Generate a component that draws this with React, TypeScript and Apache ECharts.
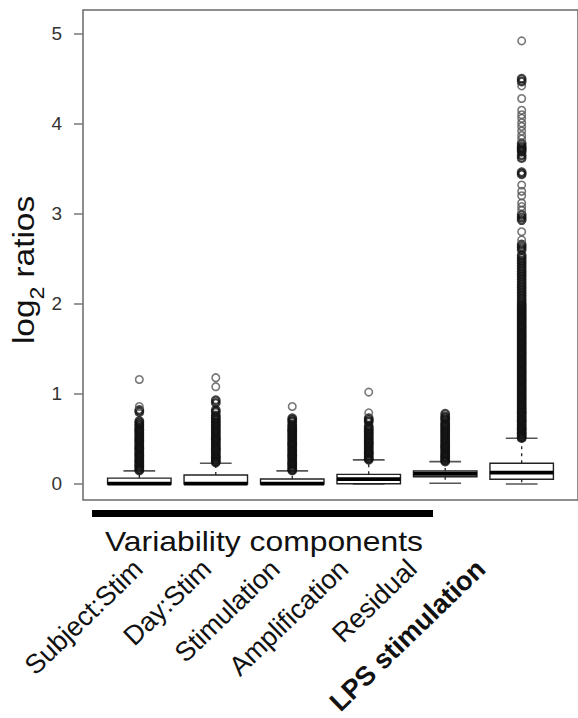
import React, { useEffect, useRef } from "react";
import * as echarts from "echarts";

const categories = ["Subject:Stim", "Day:Stim", "Stimulation", "Amplification", "Residual", "LPS stimulation"];

// [lower whisker, Q1, median, Q3, upper whisker] in log2 ratios
const boxStats = [
  [0, 0, 0.003, 0.065, 0.145],
  [0, 0, 0.003, 0.1, 0.23],
  [0, 0, 0.003, 0.055, 0.145],
  [0, 0.002, 0.053, 0.107, 0.267],
  [0.008, 0.081, 0.111, 0.144, 0.248],
  [0, 0.052, 0.125, 0.23, 0.507],
];

const outSubjectStim = [0.15, 0.16, 0.18, 0.2, 0.21, 0.23, 0.25, 0.26, 0.28, 0.3, 0.32, 0.33, 0.35, 0.37, 0.39, 0.4, 0.42, 0.44, 0.46, 0.48, 0.49, 0.51, 0.53, 0.55, 0.57, 0.59, 0.6, 0.62, 0.64, 0.66, 0.68, 0.7, 0.8, 0.82, 0.86, 1.16];
const outDayStim = [0.24, 0.25, 0.27, 0.29, 0.3, 0.32, 0.34, 0.36, 0.38, 0.39, 0.41, 0.43, 0.45, 0.47, 0.49, 0.5, 0.52, 0.54, 0.56, 0.58, 0.6, 0.62, 0.64, 0.66, 0.68, 0.7, 0.72, 0.74, 0.76, 0.8, 0.82, 0.9, 0.93, 1.08, 1.18];
const outStimulation = [0.15, 0.16, 0.18, 0.2, 0.22, 0.23, 0.25, 0.27, 0.29, 0.31, 0.32, 0.34, 0.36, 0.38, 0.4, 0.42, 0.44, 0.45, 0.47, 0.49, 0.51, 0.53, 0.55, 0.57, 0.59, 0.6, 0.62, 0.64, 0.66, 0.69, 0.71, 0.73, 0.86];
const outAmplification = [0.27, 0.28, 0.3, 0.32, 0.34, 0.35, 0.37, 0.39, 0.41, 0.43, 0.45, 0.46, 0.48, 0.5, 0.52, 0.54, 0.56, 0.58, 0.6, 0.62, 0.64, 0.69, 0.71, 0.73, 0.79, 1.02];
const outResidual = [0.25, 0.26, 0.28, 0.3, 0.31, 0.33, 0.35, 0.37, 0.39, 0.41, 0.42, 0.44, 0.46, 0.48, 0.5, 0.52, 0.54, 0.56, 0.58, 0.6, 0.62, 0.64, 0.66, 0.68, 0.71, 0.73, 0.75, 0.78];
const outLPS = [
  0.51, 0.52, 0.54, 0.56, 0.57, 0.59, 0.61, 0.62, 0.64, 0.66, 0.68, 0.7, 0.71, 0.73, 0.75, 0.77, 0.79, 0.8, 0.82, 0.84,
  0.86, 0.88, 0.9, 0.92, 0.94, 0.96, 0.98, 1.0, 1.02, 1.04, 1.06, 1.08, 1.1, 1.12, 1.14, 1.16, 1.18, 1.2, 1.22, 1.24,
  1.26, 1.28, 1.3, 1.32, 1.34, 1.36, 1.38, 1.4, 1.42, 1.44, 1.46, 1.48, 1.5, 1.52, 1.54, 1.56, 1.58, 1.6, 1.62, 1.64,
  1.66, 1.68, 1.7, 1.72, 1.74, 1.76, 1.78, 1.8, 1.82, 1.84, 1.86, 1.88, 1.9, 1.92, 1.94, 1.96, 1.98, 2.0,
  2.03, 2.06, 2.09, 2.12, 2.15, 2.18, 2.21, 2.24, 2.27, 2.3, 2.33, 2.36, 2.39, 2.42, 2.45, 2.48, 2.51, 2.54, 2.6, 2.63, 2.66, 2.71,
  2.8, 2.93, 2.96, 2.99, 3.04, 3.08, 3.12, 3.2, 3.25, 3.32, 3.44, 3.46, 3.62, 3.65, 3.69, 3.71, 3.73, 3.75, 3.78, 3.83,
  3.87, 3.92, 3.97, 4.01, 4.06, 4.1, 4.15, 4.28, 4.42, 4.47, 4.5, 4.92,
];
const outliers = [outSubjectStim, outDayStim, outStimulation, outAmplification, outResidual, outLPS];

const yTicks = [0, 1, 2, 3, 4, 5];
const groupTitle = "Variability components";

const FONT = "'Liberation Sans', Arial, Helvetica, sans-serif";

export default function App() {
  const ref = useRef<HTMLDivElement>(null);
  useEffect(() => {
    if (!ref.current) return;
    const chart = echarts.init(ref.current, null, { renderer: "svg" });

    const boxData = boxStats.map((s, i) => [i + 1, ...s]);
    const outData: any[] = [];
    outliers.forEach((arr, i) =>
      arr.forEach((v, j) => {
        const dense = arr.some((u, k) => k !== j && Math.abs(u - v) <= 0.031);
        outData.push({
          value: [i + 1, v],
          itemStyle: dense
            ? { color: "rgba(0,0,0,0)", borderColor: "#111", borderWidth: 2.4 }
            : { color: "rgba(0,0,0,0)", borderColor: "#555", borderWidth: 1.6 },
        });
      })
    );

    const option: any = {
      animation: false,
      backgroundColor: "#fff",
      grid: [
        { left: 83, right: -6, top: 10, bottom: 218, show: true, borderColor: "#6a6a6a", borderWidth: 1.5, backgroundColor: "transparent" },
        { left: 104, width: 411, top: 10, bottom: 218, show: false },
      ],
      xAxis: [
        { type: "value", gridIndex: 0, min: 0.2636, max: 6.7365, show: false },
        {
          type: "category",
          gridIndex: 1,
          data: categories,
          boundaryGap: true,
          axisLine: { show: false },
          axisTick: { show: false },
          axisLabel: {
            interval: 0,
            rotate: 44,
            margin: 74,
            fontSize: 27,
            color: "#111",
            fontFamily: FONT,
            formatter: (v: string) => (v === "LPS stimulation" ? "{b|" + v + "}" : v),
            rich: { b: { fontWeight: "bold", fontSize: 27, color: "#111", fontFamily: FONT } },
          },
        },
      ],
      yAxis: [
        {
          type: "value",
          gridIndex: 0,
          min: -0.178,
          max: 5.263,
          axisLine: { show: false },
          splitLine: { show: false },
          axisTick: { show: true, length: 9, customValues: yTicks, lineStyle: { color: "#777", width: 1.5 } },
          axisLabel: { customValues: yTicks, margin: 21, fontSize: 19, color: "#333", fontFamily: FONT },
        },
        { type: "value", gridIndex: 1, show: false, min: 0, max: 1 },
      ],
      series: [
        {
          type: "custom",
          xAxisIndex: 0,
          yAxisIndex: 0,
          data: boxData,
          encode: { x: 0, y: [1, 2, 3, 4, 5] },
          renderItem: (params: any, api: any) => {
            const x = api.value(0);
            const w = api.size([0.83, 0])[0];
            const half = w / 2;
            const cap = w / 4;
            const pLo = api.coord([x, api.value(1)]);
            const pQ1 = api.coord([x, api.value(2)]);
            const pMed = api.coord([x, api.value(3)]);
            const pQ3 = api.coord([x, api.value(4)]);
            const pHi = api.coord([x, api.value(5)]);
            const cx = pMed[0];
            const dash = { stroke: "#222", lineWidth: 1.3, lineDash: [3, 4] };
            const capStyle = { stroke: "#555", lineWidth: 1.6 };
            return {
              type: "group",
              children: [
                { type: "line", shape: { x1: cx, y1: pQ3[1], x2: cx, y2: pHi[1] }, style: dash },
                { type: "line", shape: { x1: cx, y1: pQ1[1], x2: cx, y2: pLo[1] }, style: dash },
                { type: "line", shape: { x1: cx - cap, y1: pHi[1], x2: cx + cap, y2: pHi[1] }, style: capStyle },
                { type: "line", shape: { x1: cx - cap, y1: pLo[1], x2: cx + cap, y2: pLo[1] }, style: capStyle },
                {
                  type: "rect",
                  shape: { x: cx - half, y: pQ3[1], width: w, height: Math.max(pQ1[1] - pQ3[1], 1) },
                  style: { fill: "#fff", stroke: "#222", lineWidth: 1.4 },
                },
                { type: "line", shape: { x1: cx - half, y1: pMed[1], x2: cx + half, y2: pMed[1] }, style: { stroke: "#000", lineWidth: 3.8 } },
              ],
            };
          },
          z: 2,
        },
        {
          type: "scatter",
          xAxisIndex: 0,
          yAxisIndex: 0,
          data: outData,
          symbol: "circle",
          symbolSize: 7.5,
          z: 3,
        },
      ],
      graphic: [
        {
          type: "text",
          x: 24,
          y: 270,
          rotation: Math.PI / 2,
          scaleX: 1.15,
          style: {
            text: "{a|log}{s|2}{a| ratios}",
            align: "center",
            verticalAlign: "middle",
            fill: "#111",
            rich: {
              a: { fontSize: 29, lineHeight: 50, fontFamily: FONT, fill: "#111" },
              s: { fontSize: 20, lineHeight: 24, padding: [26, 0, 0, 0], fontFamily: FONT, fill: "#111" },
            },
          },
        },
        {
          type: "rect",
          shape: { x: 92, y: 510, width: 341, height: 7 },
          style: { fill: "#000" },
        },
        {
          type: "text",
          x: 264,
          y: 541,
          scaleX: 1.18,
          style: {
            text: groupTitle,
            align: "center",
            verticalAlign: "middle",
            fontSize: 27,
            fontFamily: FONT,
            fill: "#111",
          },
        },
      ],
    };
    chart.setOption(option);
    return () => chart.dispose();
  }, []);

  return <div ref={ref} style={{ position: "absolute", left: 0, top: 0, width: 578, height: 718 }} />;
}
